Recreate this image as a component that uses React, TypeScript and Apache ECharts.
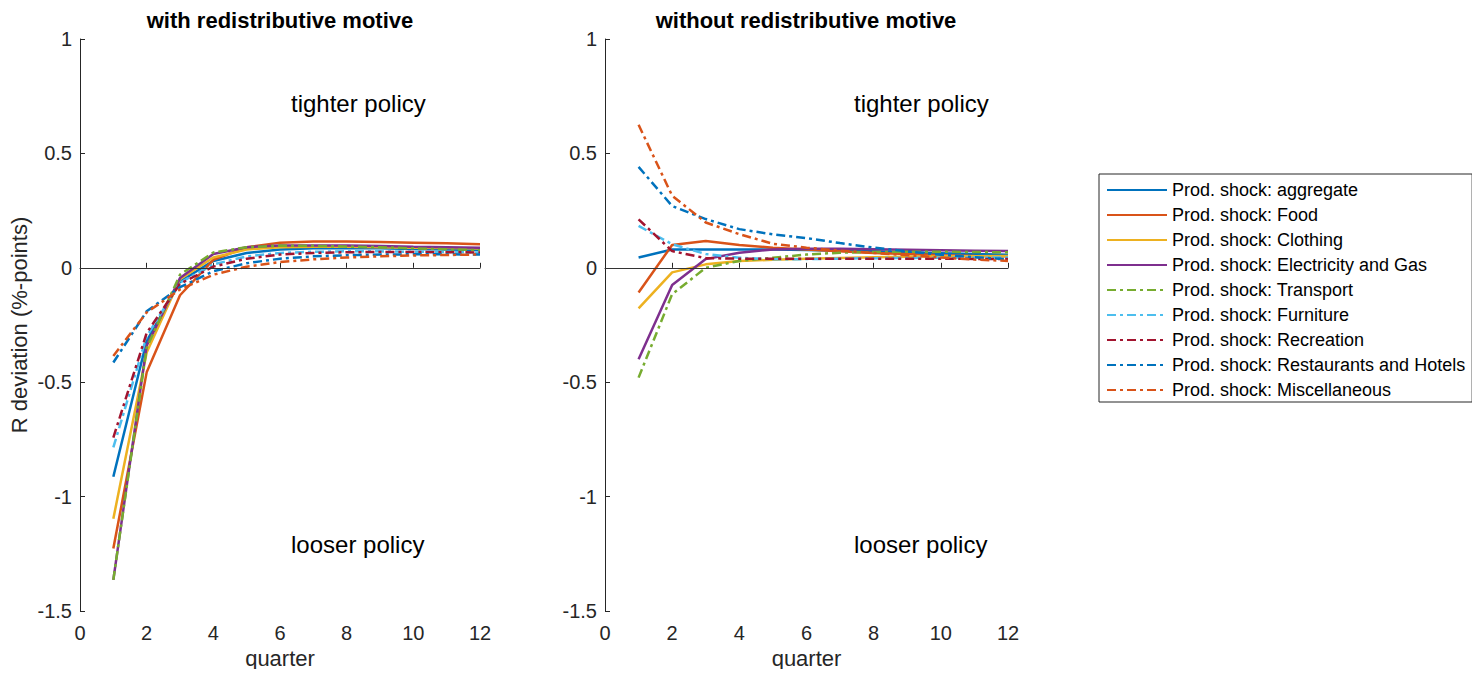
import React, { useEffect, useRef } from "react";
import * as echarts from "echarts";

const quarters = [1, 2, 3, 4, 5, 6, 7, 8, 9, 10, 11, 12];

const seriesNames = [
  "Prod. shock: aggregate",
  "Prod. shock: Food",
  "Prod. shock: Clothing",
  "Prod. shock: Electricity and Gas",
  "Prod. shock: Transport",
  "Prod. shock: Furniture",
  "Prod. shock: Recreation",
  "Prod. shock: Restaurants and Hotels",
  "Prod. shock: Miscellaneous",
];

const colors = ["#0072BD", "#D95319", "#EDB120", "#7E2F8E", "#77AC30", "#4DBEEE", "#A2142F", "#0072BD", "#D95319"];
const dashed = [false, false, false, false, true, true, true, true, true];

// with redistributive motive
const withAggregate = [-0.913, -0.32, -0.06, 0.03, 0.065, 0.08, 0.085, 0.085, 0.085, 0.082, 0.08, 0.078];
const withFood = [-1.227, -0.457, -0.12, 0.035, 0.09, 0.11, 0.115, 0.115, 0.113, 0.11, 0.107, 0.103];
const withClothing = [-1.097, -0.37, -0.05, 0.045, 0.08, 0.09, 0.092, 0.092, 0.09, 0.088, 0.086, 0.084];
const withElectricity = [-1.364, -0.34, -0.045, 0.06, 0.09, 0.097, 0.098, 0.097, 0.095, 0.092, 0.09, 0.088];
const withTransport = [-1.364, -0.35, -0.03, 0.067, 0.09, 0.097, 0.096, 0.093, 0.09, 0.085, 0.081, 0.077];
const withFurniture = [-0.785, -0.3, -0.065, 0.015, 0.05, 0.065, 0.07, 0.072, 0.072, 0.07, 0.069, 0.067];
const withRecreation = [-0.742, -0.285, -0.07, 0.005, 0.04, 0.058, 0.065, 0.068, 0.069, 0.069, 0.068, 0.067];
const withRestaurants = [-0.414, -0.19, -0.085, -0.015, 0.02, 0.04, 0.05, 0.055, 0.058, 0.059, 0.059, 0.058];
const withMisc = [-0.385, -0.195, -0.095, -0.03, 0.005, 0.025, 0.037, 0.045, 0.05, 0.054, 0.056, 0.058];

// without redistributive motive
const withoutAggregate = [0.045, 0.08, 0.08, 0.08, 0.08, 0.078, 0.075, 0.072, 0.068, 0.064, 0.06, 0.057];
const withoutFood = [-0.108, 0.1, 0.117, 0.1, 0.088, 0.08, 0.072, 0.065, 0.06, 0.055, 0.052, 0.05];
const withoutClothing = [-0.177, -0.02, 0.015, 0.03, 0.035, 0.04, 0.043, 0.046, 0.048, 0.05, 0.051, 0.052];
const withoutElectricity = [-0.4, -0.075, 0.038, 0.066, 0.08, 0.083, 0.083, 0.081, 0.079, 0.077, 0.075, 0.073];
const withoutTransport = [-0.48, -0.115, 0.0, 0.03, 0.044, 0.058, 0.066, 0.069, 0.07, 0.07, 0.069, 0.068];
const withoutFurniture = [0.183, 0.103, 0.06, 0.044, 0.037, 0.038, 0.04, 0.042, 0.043, 0.044, 0.045, 0.045];
const withoutRecreation = [0.212, 0.073, 0.042, 0.04, 0.04, 0.04, 0.04, 0.04, 0.04, 0.04, 0.039, 0.038];
const withoutRestaurants = [0.441, 0.27, 0.213, 0.169, 0.146, 0.13, 0.108, 0.088, 0.072, 0.057, 0.046, 0.038];
const withoutMisc = [0.625, 0.315, 0.198, 0.147, 0.105, 0.088, 0.075, 0.065, 0.055, 0.045, 0.036, 0.03];

const withData = [withAggregate, withFood, withClothing, withElectricity, withTransport, withFurniture, withRecreation, withRestaurants, withMisc];
const withoutData = [withoutAggregate, withoutFood, withoutClothing, withoutElectricity, withoutTransport, withoutFurniture, withoutRecreation, withoutRestaurants, withoutMisc];

const panelTitles = ["with redistributive motive", "without redistributive motive"];
const xTicks = { min: 0, max: 12, interval: 2 };
const yTicks = { min: -1.5, max: 1, interval: 0.5 };

const FONT = '"Liberation Sans", Arial, Helvetica, sans-serif';
const AXIS_COLOR = "#262626";
const DASH_DOT = [9, 4, 3, 4];

function buildSeries(data: number[][], panel: number) {
  return data.map((vals, i) => ({
    name: seriesNames[i],
    type: "line",
    xAxisIndex: panel,
    yAxisIndex: panel,
    symbol: "none",
    data: vals.map((v, k) => [quarters[k], v]),
    lineStyle: {
      color: colors[i],
      width: 2.5,
      type: dashed[i] ? DASH_DOT : "solid",
    },
    itemStyle: { color: colors[i] },
    markLine:
      i === 0
        ? {
            silent: true,
            symbol: ["none", "none"],
            label: { show: false },
            lineStyle: { color: "#333", width: 1, type: "solid" },
            data: [{ yAxis: 0 }],
          }
        : undefined,
  }));
}

function axisX(gridIndex: number) {
  return {
    type: "value",
    gridIndex,
    ...xTicks,
    name: "quarter",
    nameLocation: "middle",
    nameGap: 34,
    nameTextStyle: { fontFamily: FONT, fontSize: 22, color: AXIS_COLOR },
    axisLine: { show: true, lineStyle: { color: AXIS_COLOR, width: 1 } },
    axisTick: { show: true, inside: true, length: 5, lineStyle: { color: AXIS_COLOR } },
    axisLabel: { fontFamily: FONT, fontSize: 20, color: AXIS_COLOR, margin: 12 },
    splitLine: { show: false },
  };
}

function axisY(gridIndex: number, withName: boolean) {
  return {
    type: "value",
    gridIndex,
    ...yTicks,
    name: withName ? "R deviation (%-points)" : "",
    nameLocation: "middle",
    nameGap: 50,
    nameTextStyle: { fontFamily: FONT, fontSize: 22, color: AXIS_COLOR },
    axisLine: { show: true, lineStyle: { color: AXIS_COLOR, width: 1 } },
    axisTick: { show: true, inside: true, length: 5, lineStyle: { color: AXIS_COLOR } },
    axisLabel: { fontFamily: FONT, fontSize: 20, color: AXIS_COLOR, margin: 8 },
    splitLine: { show: false },
  };
}

function textEl(text: string, x: number, y: number, font: string, align: string) {
  return {
    type: "text",
    x,
    y,
    silent: true,
    style: {
      text,
      font,
      fill: "#000",
      textAlign: align,
      textVerticalAlign: "middle",
      align,
      verticalAlign: "middle",
    },
  };
}

export default function App() {
  const ref = useRef<HTMLDivElement>(null);

  useEffect(() => {
    if (!ref.current) return;
    const chart = echarts.init(ref.current, undefined, { renderer: "svg" });
    const option = {
      animation: false,
      backgroundColor: "#fff",
      grid: [
        { left: 80, top: 39, width: 400, height: 572 },
        { left: 605, top: 39, width: 403, height: 572 },
      ],
      xAxis: [axisX(0), axisX(1)],
      yAxis: [axisY(0, true), axisY(1, false)],
      legend: {
        data: seriesNames,
        orient: "vertical",
        left: 1099,
        top: 174,
        itemWidth: 60,
        itemHeight: 14,
        itemGap: 5,
        padding: [6, 7, 2, 7],
        borderColor: "#262626",
        borderWidth: 1,
        backgroundColor: "#fff",
        itemStyle: { opacity: 0, borderWidth: 0 },
        textStyle: { fontFamily: FONT, fontSize: 18, color: "#000", lineHeight: 20 },
      },
      graphic: [
        textEl(panelTitles[0], 280, 20, `bold 22px ${FONT}`, "center"),
        textEl(panelTitles[1], 806, 20, `bold 22px ${FONT}`, "center"),
        textEl("tighter policy", 291, 103, `24px ${FONT}`, "left"),
        textEl("looser policy", 291, 544, `24px ${FONT}`, "left"),
        textEl("tighter policy", 854, 103, `24px ${FONT}`, "left"),
        textEl("looser policy", 854, 544, `24px ${FONT}`, "left"),
      ],
      series: [...buildSeries(withData, 0), ...buildSeries(withoutData, 1)],
    };
    chart.setOption(option as any);
    return () => chart.dispose();
  }, []);

  return <div ref={ref} style={{ width: 1480, height: 677, margin: -8 }} />;
}
